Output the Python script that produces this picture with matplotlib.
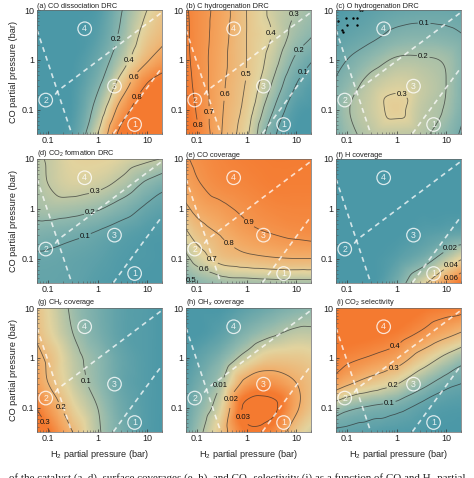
import numpy as np
import matplotlib
matplotlib.use('Agg')
import matplotlib.pyplot as plt
import matplotlib.tri as mtri
from matplotlib.colors import LinearSegmentedColormap

plt.rcParams['font.family'] = ['Liberation Sans', 'DejaVu Sans']
plt.rcParams['mathtext.fontset'] = 'custom'
plt.rcParams['mathtext.rm'] = 'Liberation Sans'
plt.rcParams['mathtext.it'] = 'Liberation Sans:italic'

# ---------------- data ----------------
h2_nodes = [0.05, 0.1, 0.316, 1.0, 3.16, 10.0, 22.4]     # H2 partial pressure grid (bar)
co_nodes = [0.0316, 0.1, 0.316, 1.0, 3.16, 10.0]         # CO partial pressure grid (bar)

# rows: CO = 0.0316 ... 10 ; columns: H2 = 0.05 ... 22.4
co_dissociation_drc = [
    [0, 0, 0.05, 0.40, 0.88, 0.96, 0.97],
    [0, 0, 0.02, 0.27, 0.70, 0.93, 0.95],
    [0, 0, 0.01, 0.17, 0.50, 0.81, 0.90],
    [0, 0, 0.00, 0.10, 0.32, 0.58, 0.70],
    [0, 0, 0.00, 0.05, 0.24, 0.47, 0.56],
    [0, 0, 0.00, 0.02, 0.20, 0.40, 0.50],
]
c_hydrogenation_drc = [
    [0.93, 0.82, 0.60, 0.42, 0.14, 0.00, 0.00],
    [0.90, 0.79, 0.61, 0.46, 0.22, 0.03, 0.00],
    [0.87, 0.77, 0.62, 0.49, 0.30, 0.10, 0.03],
    [0.85, 0.76, 0.63, 0.50, 0.36, 0.18, 0.10],
    [0.84, 0.76, 0.64, 0.50, 0.40, 0.26, 0.20],
    [0.83, 0.76, 0.65, 0.50, 0.38, 0.30, 0.25],
]
o_hydrogenation_drc = [
    [0.10, 0.17, 0.23, 0.24, 0.22, 0.15, 0.08],
    [0.12, 0.19, 0.26, 0.32, 0.24, 0.19, 0.11],
    [0.10, 0.15, 0.24, 0.28, 0.25, 0.20, 0.12],
    [0.06, 0.10, 0.16, 0.21, 0.21, 0.19, 0.13],
    [0.03, 0.05, 0.08, 0.12, 0.13, 0.12, 0.10],
    [0.01, 0.02, 0.04, 0.06, 0.07, 0.07, 0.06],
]
co2_formation_drc = [
    [0.07, 0.07, 0.06, 0.03, 0.01, 0.00, 0.00],
    [0.085, 0.085, 0.07, 0.05, 0.02, 0.01, 0.00],
    [0.15, 0.14, 0.12, 0.09, 0.05, 0.02, 0.01],
    [0.24, 0.25, 0.24, 0.21, 0.15, 0.08, 0.05],
    [0.25, 0.30, 0.35, 0.33, 0.27, 0.18, 0.13],
    [0.27, 0.31, 0.38, 0.39, 0.36, 0.32, 0.29],
]
co_coverage = [
    [0.45, 0.50, 0.54, 0.55, 0.56, 0.56, 0.56],
    [0.55, 0.64, 0.74, 0.77, 0.79, 0.80, 0.80],
    [0.66, 0.74, 0.81, 0.87, 0.90, 0.92, 0.93],
    [0.76, 0.83, 0.88, 0.92, 0.95, 0.96, 0.96],
    [0.84, 0.89, 0.94, 0.96, 0.98, 0.98, 0.98],
    [0.88, 0.92, 0.96, 0.98, 0.99, 0.99, 0.99],
]
h_coverage = [
    [0, 0, 0, 0.012, 0.035, 0.062, 0.080],
    [0, 0, 0, 0.004, 0.012, 0.028, 0.040],
    [0, 0, 0, 0.000, 0.003, 0.006, 0.008],
    [0, 0, 0, 0, 0, 0, 0],
    [0, 0, 0, 0, 0, 0, 0],
    [0, 0, 0, 0, 0, 0, 0],
]
chx_coverage = [
    [0.38, 0.31, 0.20, 0.11, 0.05, 0.01, 0.00],
    [0.31, 0.25, 0.16, 0.10, 0.04, 0.01, 0.00],
    [0.25, 0.20, 0.13, 0.08, 0.03, 0.01, 0.00],
    [0.22, 0.19, 0.12, 0.075, 0.03, 0.01, 0.00],
    [0.20, 0.16, 0.10, 0.055, 0.02, 0.01, 0.00],
    [0.19, 0.15, 0.09, 0.05, 0.02, 0.01, 0.00],
]
ohx_coverage = [
    [0.003, 0.008, 0.017, 0.028, 0.026, 0.016, 0.012],
    [0.002, 0.006, 0.014, 0.032, 0.032, 0.021, 0.016],
    [0.001, 0.004, 0.010, 0.022, 0.024, 0.020, 0.017],
    [0.000, 0.002, 0.006, 0.012, 0.016, 0.016, 0.015],
    [0.000, 0.000, 0.002, 0.006, 0.009, 0.011, 0.011],
    [0.000, 0.000, 0.000, 0.002, 0.004, 0.006, 0.007],
]
co2_selectivity = [
    [0.04, 0.03, 0.02, 0.01, 0.005, 0.00, 0.00],
    [0.16, 0.12, 0.09, 0.07, 0.035, 0.015, 0.01],
    [0.37, 0.32, 0.26, 0.21, 0.13, 0.07, 0.05],
    [0.44, 0.42, 0.39, 0.35, 0.26, 0.18, 0.13],
    [0.48, 0.47, 0.46, 0.44, 0.39, 0.33, 0.29],
    [0.50, 0.49, 0.49, 0.48, 0.46, 0.44, 0.43],
]

titles = ['(a) CO dissociation DRC', '(b) C hydrogenation DRC', '(c) O hydrogenation DRC',
          '(d) CO$_2$ formation DRC', '(e) CO coverage', '(f) H coverage',
          '(g) CH$_x$ coverage', '(h) OH$_x$ coverage', '(i) CO$_2$ selectivity']
fields = [co_dissociation_drc, c_hydrogenation_drc, o_hydrogenation_drc,
          co2_formation_drc, co_coverage, h_coverage,
          chx_coverage, ohx_coverage, co2_selectivity]
color_ranges = [(0, 0.85), (0, 0.85), (0, 0.6), (0, 0.75), (0.35, 1.0),
                (0, 0.075), (0, 0.3), (0, 0.028), (0, 0.45)]
contour_levels = [[0.2, 0.4, 0.6, 0.8],
                  [0.1, 0.2, 0.3, 0.4, 0.5, 0.6, 0.7, 0.8],
                  [0.1, 0.2, 0.3],
                  [0.1, 0.2, 0.3],
                  [0.5, 0.6, 0.7, 0.8, 0.9],
                  [0.02, 0.04, 0.06],
                  [0.1, 0.2, 0.3],
                  [0.01, 0.02, 0.03],
                  [0.05, 0.1, 0.2, 0.3, 0.4]]
label_points = [
    [(2.49, 2.48), (4.3, 1.0), (5.4, 0.45), (5.9, 0.18)],
    [(11.2, 7.3), (3.5, 3.4), (13.5, 1.37), (13.5, 0.56), (1.0, 0.51), (0.37, 0.2), (0.166, 0.087), (0.092, 0.046)],
    [(3.6, 4.3), (3.4, 1.05), (1.15, 0.16)],
    [(0.9, 2.1), (0.71, 0.83), (0.56, 0.28)],
    [(1.19, 0.56), (0.47, 0.21), (0.23, 0.11), (0.145, 0.069), (0.083, 0.044)],
    [(13.6, 0.135), (12.7, 0.072), (12.7, 0.041)],
    [(0.43, 0.31), (0.19, 0.1), (0.093, 0.052)],
    [(0.35, 0.26), (0.63, 0.14), (1.19, 0.072)],
    [(0.98, 1.6), (0.87, 0.62), (0.81, 0.3), (0.71, 0.13)],
]

# regime boundaries (white dashed) and regime markers
boundary_left_h2 = [0.06, 0.30]
boundary_left_co = [4.0, 0.033]
boundary_upper_h2 = [0.14, 0.16, 20.0]
boundary_upper_co = [0.20, 0.24, 9.0]
boundary_right_h2 = [2.1, 20.0]
boundary_right_co = [0.033, 0.70]
regime_names = ['1', '2', '3', '4']
regime_h2 = [5.6, 0.09, 2.2, 0.55]
regime_co = [0.05, 0.155, 0.295, 4.2]

# dark specks in panel (c)
speck_h2 = [0.066, 0.095, 0.10, 0.08, 0.085, 0.13, 0.16, 0.16, 0.18, 0.20]
speck_co = [6.1, 6.8, 5.0, 4.0, 3.6, 6.8, 6.8, 5.0, 9.8, 9.8]

# ---------------- drawing ----------------
cmap = LinearSegmentedColormap.from_list(
    'tealorange', ['#4b98a7', '#8db7ad', '#e2d39e', '#f3a862', '#f47a30'])

W, H = 474, 478
fig = plt.figure(figsize=(W / 100, H / 100), dpi=100)

col_left = [37, 186, 336]
row_top = [10, 159, 308]
pw, ph = 125, 123.5

lx = np.log10(h2_nodes)
ly = np.log10(co_nodes)
LX, LY = np.meshgrid(lx, ly)
base_tri = mtri.Triangulation(LX.ravel(), LY.ravel())
refiner = mtri.UniformTriRefiner(base_tri)

# display mesh (in log10 units) on which the library's cubic interpolator is evaluated
mesh_lx = np.linspace(np.log10(0.06), np.log10(20), 260)
mesh_ly = np.linspace(np.log10(0.033), np.log10(10), 260)
MLX, MLY = np.meshgrid(mesh_lx, mesh_ly)

for k in range(9):
    r, c = divmod(k, 3)
    ax = fig.add_axes([col_left[c] / W, (H - row_top[r] - ph) / H, pw / W, ph / H])
    ax.set_xscale('log')
    ax.set_yscale('log')
    z = np.asarray(fields[k], dtype=float).ravel()
    interp = mtri.CubicTriInterpolator(base_tri, z, kind='geom')
    zm = interp(MLX, MLY)
    vmin, vmax = color_ranges[k]
    ax.pcolormesh(10 ** MLX, 10 ** MLY, zm, shading='auto', cmap=cmap,
                  vmin=vmin, vmax=vmax, rasterized=True)
    tri_r, z_r = refiner.refine_field(z, triinterpolator=interp, subdiv=4)
    tri_d = mtri.Triangulation(10 ** tri_r.x, 10 ** tri_r.y, tri_r.triangles)
    cs = ax.tricontour(tri_d, z_r, levels=contour_levels[k], colors='#2e2e2e',
                       linewidths=0.6, alpha=0.7)
    ax.set_xlim(0.06, 20)
    ax.set_ylim(0.033, 10)
    ax.clabel(cs, manual=label_points[k], fmt='%g', fontsize=5.6,
              inline=True, inline_spacing=1)
    for t in cs.labelTexts:
        t.set_rotation(0)
        t.set_color('#111111')

    wd = dict(color='white', alpha=0.75, lw=1.2, ls=(0, (3, 2.5)))
    ax.plot(boundary_left_h2, boundary_left_co, **wd)
    ax.plot(boundary_upper_h2, boundary_upper_co, **wd)
    ax.plot(boundary_right_h2, boundary_right_co, **wd)
    for name, hx, cy in zip(regime_names, regime_h2, regime_co):
        ax.text(hx, cy, name, fontsize=6.3, color=(1, 1, 1, 0.85), ha='center', va='center',
                bbox=dict(boxstyle='circle,pad=0.26', fc='none', ec=(1, 1, 1, 0.8), lw=0.9))
    if k == 2:
        ax.scatter(speck_h2, speck_co, s=3, c='k', lw=0)

    ax.set_xlim(0.06, 20)
    ax.set_ylim(0.033, 10)
    ax.set_xticks([0.1, 1, 10], ['0.1', '1', '10'])
    ax.set_yticks([0.1, 1, 10], ['0.1', '1', '10'])
    ax.tick_params(which='major', direction='in', length=2.5, width=0.5, labelsize=6.5,
                   pad=2, colors='#333333', labelcolor='#222222')
    ax.tick_params(which='minor', direction='in', length=1.3, width=0.4, colors='#555555')
    ax.yaxis.set_minor_formatter(matplotlib.ticker.NullFormatter())
    ax.xaxis.set_minor_formatter(matplotlib.ticker.NullFormatter())
    for s in ax.spines.values():
        s.set_linewidth(0.5)
        s.set_color('#666666')
    ax.set_title(titles[k], loc='left', fontsize=5.3, pad=1.5, color='#222222')
    if c == 0:
        ax.set_ylabel('CO partial pressure (bar)', fontsize=6.6, labelpad=2.5, color='#222222')
    if r == 2:
        ax.set_xlabel('H$_2$ partial pressure (bar)', fontsize=6.6, labelpad=3.5, color='#222222')

fig.text(0.5, 0.0095, 'of the catalyst (a\u2013d), surface coverages (e\u2013h), and CO\u2082 selectivity (i) '
         'as a function of CO and H\u2082 partial',
         ha='center', va='top', fontsize=7.9, family=['Liberation Serif', 'DejaVu Serif'],
         color='#222222')

fig.savefig('out.png', dpi=100)
